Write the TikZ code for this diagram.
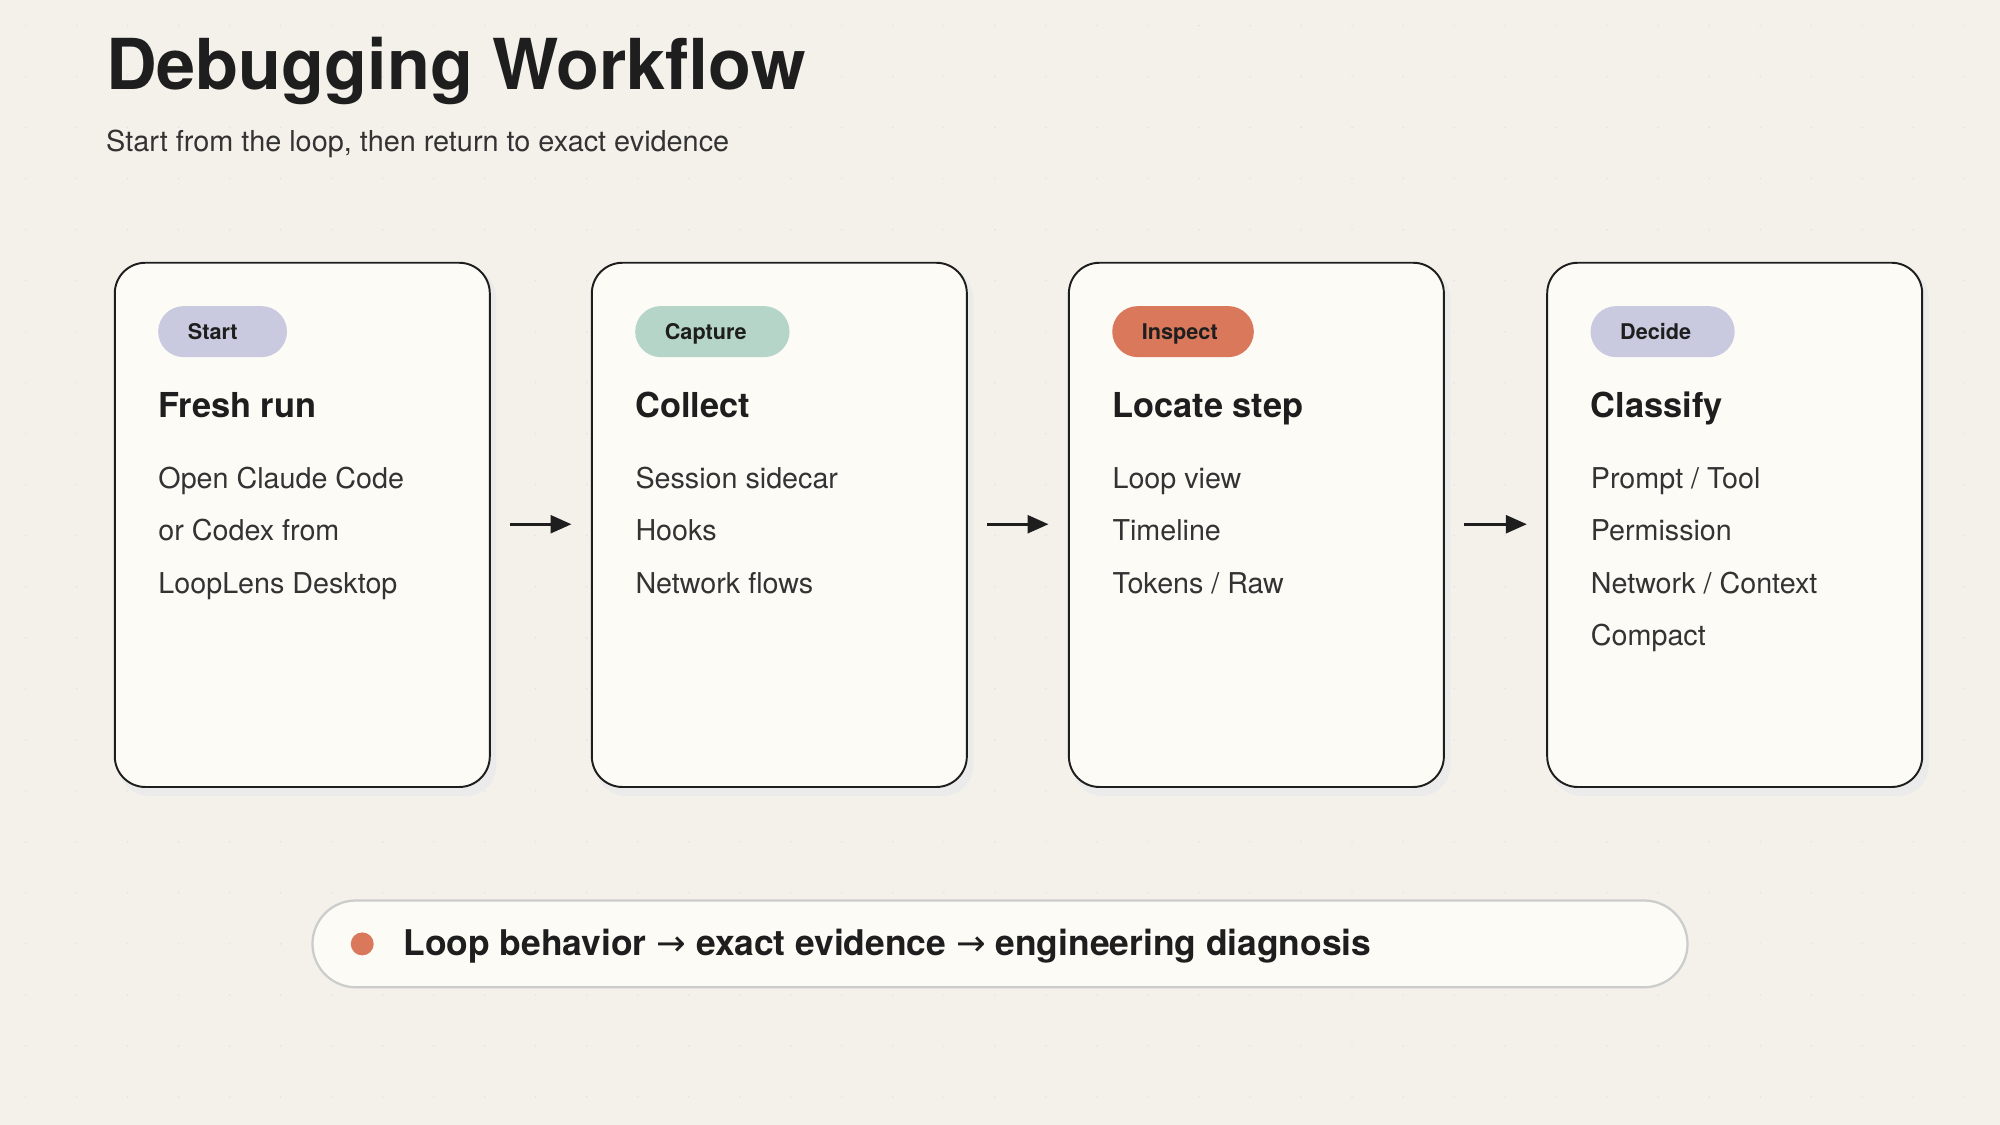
\documentclass[tikz,border=0pt]{standalone}
\usepackage{fontspec}
\setmainfont{TeX Gyre Heros}
\newfontfamily\djv{DejaVu Sans}
\usetikzlibrary{arrows.meta}
\definecolor{bg}{HTML}{F4F0EA}
\definecolor{card}{HTML}{FDFBF6}
\definecolor{ink}{HTML}{1E1E1E}
\definecolor{lav}{HTML}{C9C9DF}
\definecolor{mint}{HTML}{B5D5C8}
\definecolor{coral}{HTML}{D9785B}
\definecolor{body}{HTML}{333333}
\tikzset{
 every node/.style={inner sep=0pt},
 cardbox/.style={draw=ink,line width=1.3pt,fill=card,rounded corners=24*0.3mm},
 pill/.style={rounded corners=20*0.3mm},
 pilltext/.style={anchor=base west,font=\fontsize{14.5}{16}\selectfont\bfseries,text=ink},
 cardtitle/.style={anchor=base west,font=\fontsize{23}{26}\selectfont\bfseries,text=ink},
 line/.style={anchor=base west,font=\fontsize{19.2}{22}\selectfont,text=body},
 flow/.style={-{Triangle[length=14pt,width=12pt]},line width=1.8pt,draw=ink}
}
\begin{document}
\begin{tikzpicture}[x=0.3mm,y=-0.3mm]
\fill[bg] (0,0) rectangle (1568,882);
\useasboundingbox (0,0) rectangle (1568,882);
\foreach \x in {20,60,...,1560}{\foreach \y in {20,60,...,880}{\fill[black!12] (\x,\y) circle (0.6);}}
\node[anchor=base west,font=\fontsize{47}{50}\selectfont\bfseries,text=ink] (title) at (83,70) {Debugging Workflow};
\node[anchor=base west,font=\fontsize{19.3}{22}\selectfont,text=body] (sub) at (83,119) {Start from the loop, then return to exact evidence};
\foreach \i/\x/\tag/\pc/\pw/\ttl in {1/90/Start/lav/101/Fresh run,2/464/Capture/mint/121/Collect,3/838/Inspect/coral/111/Locate step,4/1213/Decide/lav/113/Classify}{
 \fill[black!8,rounded corners=24*0.3mm] (\x+3,210) rectangle (\x+299,624);
 \draw[cardbox] (\x,206) rectangle (\x+294,617);
 \coordinate (cl\i) at (\x,411);
 \coordinate (cr\i) at (\x+294,411);
 \fill[\pc,pill] (\x+34,240) rectangle (\x+34+\pw,280);
 \node[pilltext] (p\i) at (\x+57,266) {\tag};
 \node[cardtitle] (t\i) at (\x+34,327) {\ttl};
}
\node[line] at (124,383) {Open Claude Code};
\node[line] at (124,424) {or Codex from};
\node[line] at (124,465) {LoopLens Desktop};
\node[line] at (498,383) {Session sidecar};
\node[line] at (498,424) {Hooks};
\node[line] at (498,465) {Network flows};
\node[line] at (872,383) {Loop view};
\node[line] at (872,424) {Timeline};
\node[line] at (872,465) {Tokens / Raw};
\node[line] at (1247,383) {Prompt / Tool};
\node[line] at (1247,424) {Permission};
\node[line] at (1247,465) {Network / Context};
\node[line] at (1247,506) {Compact};
\foreach \a/\b in {1/2,2/3,3/4}{
 \draw[flow] ([xshift=16*0.3mm]cr\a) -- ([xshift=-16*0.3mm]cl\b);
}
\draw[draw=black!20,line width=1.5pt,fill=card,rounded corners=34*0.3mm] (245,706) rectangle (1323,774);
\fill[coral] (284,740) circle (9);
\node[anchor=base west,font=\fontsize{23.7}{26}\selectfont\bfseries,text=ink] (bt) at (316,749) {Loop behavior {\djv\mdseries →} exact evidence {\djv\mdseries →} engineering diagnosis};
\end{tikzpicture}
\end{document}
